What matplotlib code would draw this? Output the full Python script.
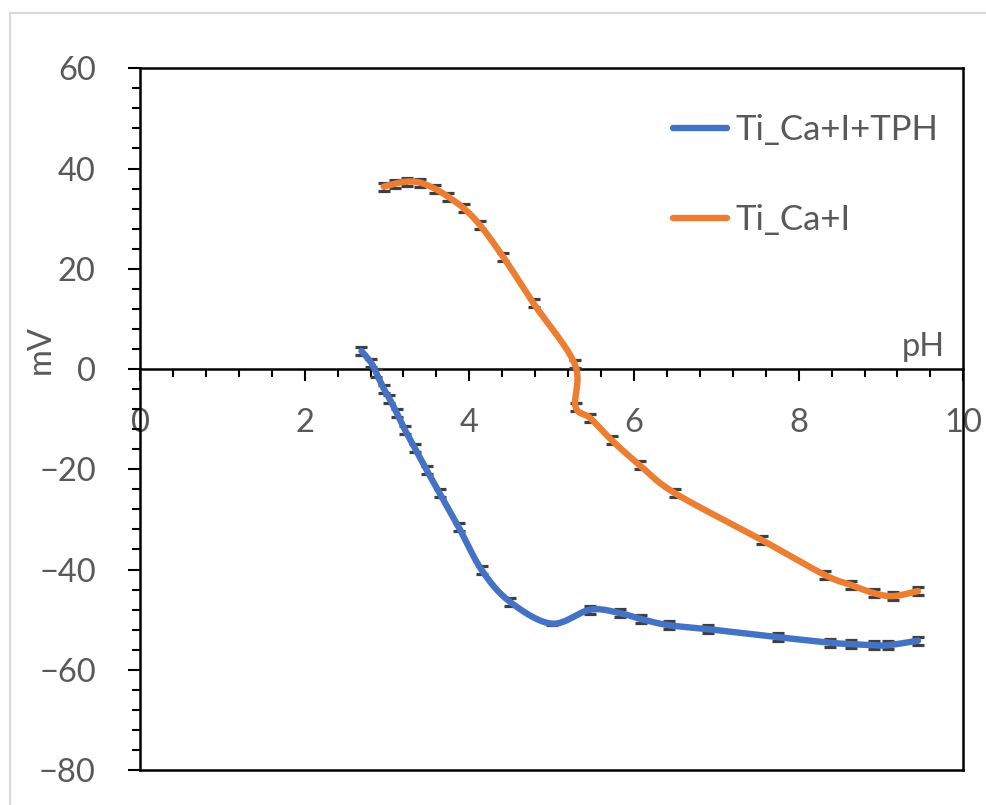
import numpy as np
import matplotlib
matplotlib.use("Agg")
import matplotlib.pyplot as plt
from matplotlib.ticker import MultipleLocator
from matplotlib.patches import Rectangle

plt.rcParams['font.family'] = ['Lato', 'DejaVu Sans']

# ---- data ----
blue_label = "Ti_Ca+I+TPH"
blue_ph = [2.69, 2.81, 2.87, 2.96, 3.03, 3.12, 3.22, 3.34, 3.48, 3.64, 3.87, 4.15,
           4.49, 5.00, 5.47, 5.83, 6.09, 6.42, 6.90, 7.75, 8.38, 8.64, 8.91, 9.09, 9.45]
blue_mv = [3.6, 1.2, -0.8, -3.9, -5.9, -8.8, -12.2, -15.8, -20.1, -24.8, -31.5, -40.1,
           -46.4, -50.8, -48.0, -48.7, -49.9, -51.1, -51.9, -53.5, -54.6, -54.9, -55.1, -55.1, -54.2]
blue_err = [0.8, 0.8, 0.8, 0.8, 0.8, 0.8, 0.8, 0.8, 0.8, 0.8, 0.8, 0.8,
            0.8, 0.3, 0.8, 0.8, 0.8, 0.8, 0.8, 0.8, 0.8, 0.8, 0.8, 0.8, 0.8]

orange_label = "Ti_Ca+I"
orange_ph = [2.96, 3.10, 3.24, 3.40, 3.58, 3.74, 3.93, 4.13, 4.41, 4.78, 5.28, 5.29,
             5.47, 5.73, 6.07, 6.50, 7.55, 8.32, 8.64, 8.91, 9.15, 9.45]
orange_mv = [36.4, 37.0, 37.4, 37.2, 36.0, 34.4, 32.1, 28.7, 22.4, 13.1, 1.0, -7.5,
             -9.8, -14.2, -19.2, -24.8, -34.1, -41.1, -43.1, -44.7, -45.3, -44.3]
orange_err = [0.8] * len(orange_ph)

x_ticks = [0, 2, 4, 6, 8, 10]
y_ticks = [-80, -60, -40, -20, 0, 20, 40, 60]

BLUE = '#4472C4'
ORANGE = '#ED7D31'
TXT = '#595959'
FS = 23.5
LFS = 25


def smooth(xs, ys, n=40):
    """Excel-like smoothed line (Catmull-Rom converted to cubic Bezier)."""
    P = np.column_stack([xs, ys]).astype(float)
    out = []
    m = len(P)
    t = np.linspace(0, 1, n)[:, None]
    for i in range(m - 1):
        p0 = P[i - 1] if i > 0 else P[i]
        p1 = P[i]
        p2 = P[i + 1]
        p3 = P[i + 2] if i + 2 < m else P[i + 1]
        c1 = p1 + (p2 - p0) / 6.0
        c2 = p2 - (p3 - p1) / 6.0
        seg = ((1 - t) ** 3) * p1 + 3 * ((1 - t) ** 2) * t * c1 + 3 * (1 - t) * t ** 2 * c2 + t ** 3 * p2
        out.append(seg if i == 0 else seg[1:])
    c = np.vstack(out)
    return c[:, 0], c[:, 1]


fig = plt.figure(figsize=(9.87, 8.05), dpi=100)
ax = fig.add_axes([140 / 987, 1 - 770 / 805, (963.3 - 140) / 987, (770 - 68.3) / 805])

# chart-area border (extends beyond right and bottom edges)
top = 1 - 13 / 805
fig.patches.append(Rectangle((10 / 987, -0.2), 1.2, top + 0.2,
                             transform=fig.transFigure, fill=False,
                             edgecolor='#d9d9d9', lw=1.5))

for xs, ys, err, col, lab in [(blue_ph, blue_mv, blue_err, BLUE, blue_label),
                              (orange_ph, orange_mv, orange_err, ORANGE, orange_label)]:
    ax.errorbar(xs, ys, yerr=err, fmt='none', ecolor='#3f3f3f', elinewidth=1.2,
                capsize=4.0, capthick=2.3, zorder=3)
    sx, sy = smooth(xs, ys)
    ax.plot(sx, sy, color=col, lw=4.6, solid_capstyle='round', zorder=4, label=lab)

ax.set_xlim(0, 10)
ax.set_ylim(-80, 60)
ax.set_xticks(x_ticks)
ax.set_yticks(y_ticks)
ax.xaxis.set_minor_locator(MultipleLocator(0.4))
ax.yaxis.set_minor_locator(MultipleLocator(4))
ax.set_xticklabels([str(v) for v in x_ticks])
ax.set_yticklabels([str(v).replace('-', '\u2212') for v in y_ticks])

ax.spines['bottom'].set_position(('data', 0))
for s in ax.spines.values():
    s.set_linewidth(1.8)
    s.set_color('black')
ax.plot([0, 1], [0, 0], transform=ax.transAxes, color='black', lw=1.8,
        clip_on=False, solid_capstyle='projecting', zorder=5)

ax.tick_params(which='major', direction='out', length=8.3, width=1.5, color='black',
               labelsize=FS, labelcolor=TXT)
ax.tick_params(which='minor', direction='out', length=6.0, width=1.5, color='black')
ax.tick_params(axis='x', which='major', pad=19.5)
ax.tick_params(axis='y', which='major', pad=23.5)

ax.text(9.78, 2.6, 'pH', ha='right', va='baseline', fontsize=FS, color=TXT)
fig.text(41 / 987, 1 - 349 / 805, 'mV', rotation=90, ha='center', va='center',
         fontsize=FS, color=TXT)

leg = ax.legend(loc='upper left', bbox_to_anchor=(673 / 987, 1 - 114 / 805),
                bbox_transform=fig.transFigure, frameon=False, fontsize=LFS,
                handlelength=1.56, handletextpad=0.23, labelspacing=1.68,
                borderpad=0, borderaxespad=0)
for t in leg.get_texts():
    t.set_color(TXT)

fig.savefig('out.png', dpi=100)
